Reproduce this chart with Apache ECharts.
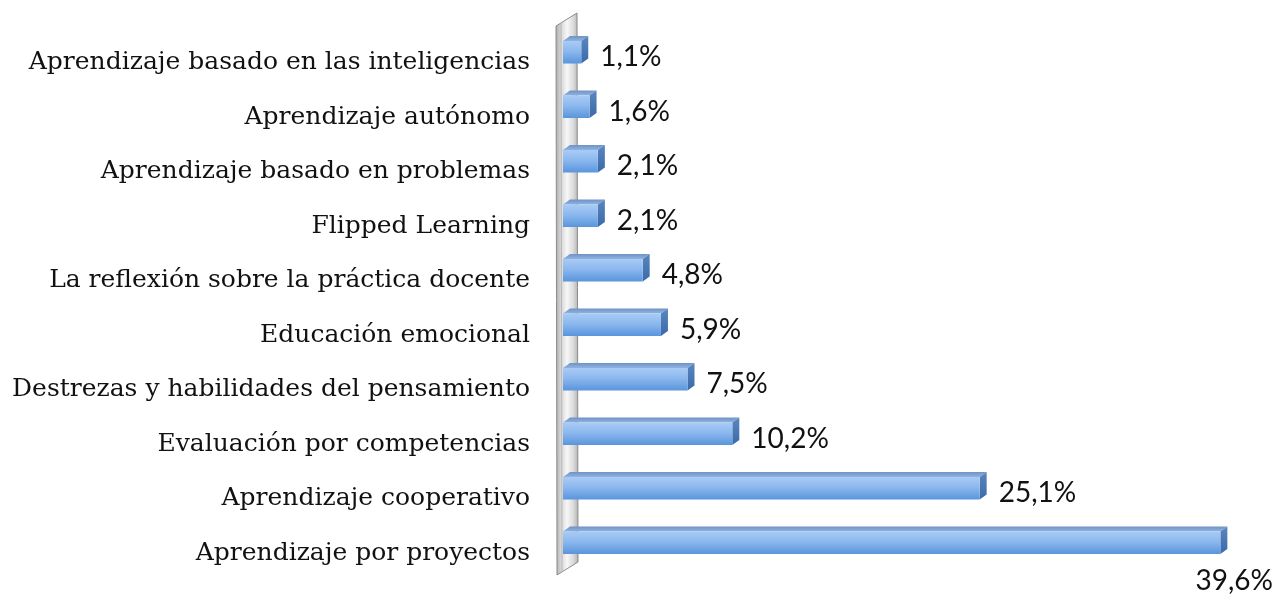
<!DOCTYPE html>
<html><head><meta charset="utf-8">
<script src="https://cdn.jsdelivr.net/npm/echarts@6/dist/echarts.min.js"></script>
<style>html,body{margin:0;padding:0;background:#fff}#c{width:1277px;height:594px}</style>
</head><body><div id="c"></div>
<script>
const categories = ["Aprendizaje basado en las inteligencias", "Aprendizaje autónomo", "Aprendizaje basado en problemas", "Flipped Learning", "La reflexión sobre la práctica docente", "Educación emocional", "Destrezas y habilidades del pensamiento", "Evaluación por competencias", "Aprendizaje cooperativo", "Aprendizaje por proyectos"];
const values = [1.1, 1.6, 2.1, 2.1, 4.8, 5.9, 7.5, 10.2, 25.1, 39.6];

const W = 1277;
const LABEL_FONT = '28px Lato';
const ctx = document.createElement('canvas').getContext('2d');
function textW(s){ ctx.font = LABEL_FONT; return ctx.measureText(s).width; }
function fmt(v){ return v.toFixed(1).replace('.', ',') + '%'; }

const GRID = {left: 563, top: 25, right: 50, bottom: 24};

function renderItem(params, api) {
  const idx = api.value(1);
  const v = api.value(0);
  const p0 = api.coord([0, idx]);
  const p1 = api.coord([v, idx]);
  const band = api.size([0, 1])[1];
  const h = band * 0.41;
  const dx = 7, dy = 5;
  const yc = p0[1];
  const x0 = p0[0], x1 = p1[0];
  const yt = yc - h / 2, yb = yc + h / 2;
  const txt = fmt(v);
  const tw = textW(txt);
  let tx = x1 + 19, ty = yc + 5, align = 'left';
  if (tx + tw > W - 4) { tx = W - 4; ty = yc + 38; align = 'right'; }
  return {
    type: 'group',
    children: [
      { type: 'polygon', shape: {points: [[x0, yt], [x1, yt], [x1 + dx, yt - dy], [x0 + dx, yt - dy]]},
        style: {fill: {type: 'linear', x: 0, y: 0, x2: 0, y2: 1, colorStops: [{offset: 0, color: '#6f93c4'}, {offset: 1, color: '#8fb3e2'}]}} },
      { type: 'polygon', shape: {points: [[x1, yt], [x1 + dx, yt - dy], [x1 + dx, yb - dy], [x1, yb]]},
        style: {fill: {type: 'linear', x: 0, y: 0, x2: 0, y2: 1, colorStops: [{offset: 0, color: '#5a86c0'}, {offset: 1, color: '#3a6aa8'}]}} },
      { type: 'rect', shape: {x: x0, y: yt, width: x1 - x0, height: h},
        style: {fill: {type: 'linear', x: 0, y: 0, x2: 0, y2: 1, colorStops: [{offset: 0, color: '#a9cbf5'}, {offset: 0.45, color: '#8cb8ee'}, {offset: 1, color: '#5a95dc'}]}} },
      { type: 'text', style: {x: tx, y: ty, text: txt, align: align, verticalAlign: 'middle', font: LABEL_FONT, fill: '#111'} }
    ]
  };
}

const chart = echarts.init(document.getElementById('c'), null, {renderer: 'canvas'});
chart.setOption({
  animation: false,
  backgroundColor: '#fff',
  grid: GRID,
  xAxis: {type: 'value', min: 0, max: 40, show: false},
  yAxis: {type: 'category', data: categories, inverse: true,
    axisLine: {show: false}, axisTick: {show: false}, splitLine: {show: false},
    axisLabel: {margin: 33, color: '#111', fontFamily: 'DejaVu Serif', fontSize: 25,
      formatter: (v) => '{c|' + v + '}',
      rich: {c: {color: '#111', fontFamily: 'DejaVu Serif', fontSize: 25, padding: [21, 0, 0, 0]}}}},
  series: [{
    type: 'custom', renderItem: renderItem, clip: false,
    data: values.map((v, i) => [v, i]),
    encode: {x: 0, y: 1}
  }]
});

// decorative 3D wall on the left of the plot
const gx = GRID.left, gTop = GRID.top, gBot = 594 - GRID.bottom;
const wall = [
  { type: 'polygon', z: -1, shape: {points: [[gx - 7, gTop + 1], [gx + 14, gTop - 12], [gx + 15, gBot - 8], [gx - 6, gBot + 5]]},
    style: {stroke: '#8c8c8c', lineWidth: 1, fill: {type: 'linear', x: 0, y: 0, x2: 1, y2: 0, colorStops: [
      {offset: 0, color: '#a8a8a8'}, {offset: 0.22, color: '#d4d4d4'}, {offset: 0.5, color: '#f7f7f7'}, {offset: 0.78, color: '#dadada'}, {offset: 1, color: '#b0b0b0'}]}} },
  { type: 'line', z: -1, shape: {x1: gx - 2, y1: gTop - 2, x2: gx - 1, y2: gBot + 2}, style: {stroke: '#b8b8b8', lineWidth: 1} }
];
chart.setOption({graphic: wall});
</script></body></html>
